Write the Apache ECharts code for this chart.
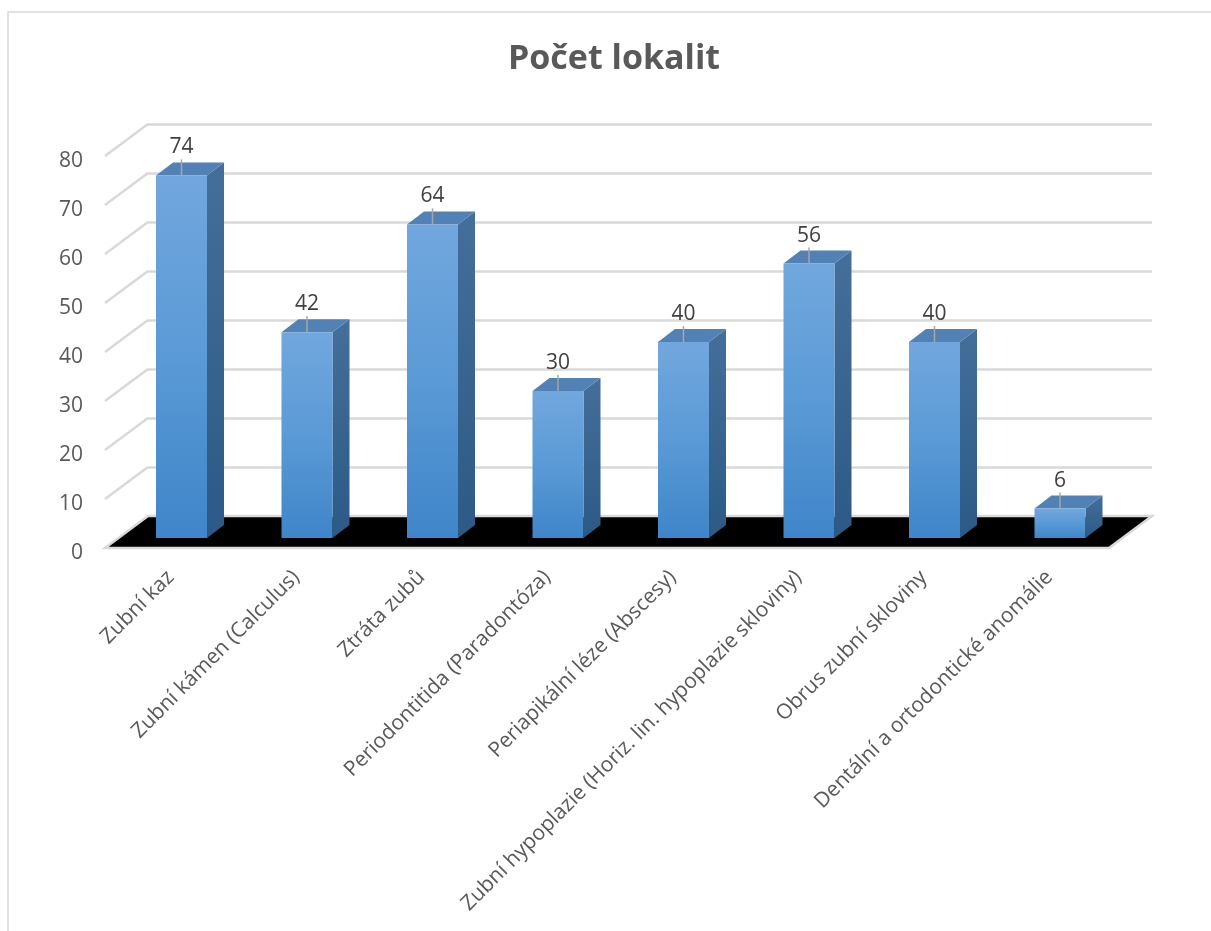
<!DOCTYPE html>
<html>
<head>
<meta charset="utf-8">
<script src="https://cdn.jsdelivr.net/npm/echarts@6/dist/echarts.min.js"></script>
<style>
html,body{margin:0;padding:0;background:#fff;}
#c{width:1211px;height:931px;}
</style>
</head>
<body>
<div id="c"></div>
<script>
const titleText = 'Počet lokalit';
const categories = [
  'Zubní kaz',
  'Zubní kámen (Calculus)',
  'Ztráta zubů',
  'Periodontitida (Paradontóza)',
  'Periapikální léze (Abscesy)',
  'Zubní hypoplazie (Horiz. lin. hypoplazie skloviny)',
  'Obrus zubní skloviny',
  'Dentální a ortodontické anomálie'
];
const values = [74, 42, 64, 30, 40, 56, 40, 6];
const yTicks = [0, 10, 20, 30, 40, 50, 60, 70, 80];

// oblique 3D projection offsets (pixels, relative to back wall)
const FRONT = [-43, 32];      // front edge of floor / side wall
const BAR_FRONT = [-29.25, 22];
const BAR_BACK = [-12.25, 9];
const HALF_W = 25.5;
const FONT = '"Open Sans", "Liberation Sans", sans-serif';

const chart = echarts.init(document.getElementById('c'), null, {renderer: 'canvas'});

const frontGrad = {type: 'linear', x: 0, y: 0, x2: 0, y2: 1, colorStops: [
  {offset: 0, color: '#72A7DE'}, {offset: 0.5, color: '#5A9AD6'}, {offset: 1, color: '#3F85C9'}]};
const sideGrad = {type: 'linear', x: 0, y: 0, x2: 0, y2: 1, colorStops: [
  {offset: 0, color: '#456F9B'}, {offset: 1, color: '#2C5985'}]};

const option = {
  animation: false,
  backgroundColor: '#ffffff',
  graphic: [
    {type: 'rect', shape: {x: 8, y: 12, width: 1400, height: 1100},
     style: {fill: 'none', stroke: '#d9d9d9', lineWidth: 1.5}, silent: true, z: -10},
    {type: 'text', x: 614, y: 59, style: {text: titleText, fill: '#595959',
      font: 'bold 34px ' + FONT, align: 'center', verticalAlign: 'middle'}}
  ],
  grid: {left: 148, right: 59, top: 124, bottom: 415},
  xAxis: {
    type: 'category', data: categories, boundaryGap: true,
    axisLine: {show: false}, axisTick: {show: false}, axisLabel: {show: false}, splitLine: {show: false}
  },
  yAxis: {
    type: 'value', min: 0, max: 80, interval: 10,
    axisLine: {show: false}, axisTick: {show: false}, axisLabel: {show: false},
    splitLine: {lineStyle: {color: '#d9d9d9', width: 2.5}}
  },
  series: [
    {
      // floor
      type: 'custom', z: 2, silent: true,
      data: [[0]],
      renderItem: function (params, api) {
        const cs = params.coordSys;
        const y0 = api.coord([0, 0])[1];
        const x1 = cs.x, x2 = cs.x + cs.width;
        return {
          type: 'polygon',
          shape: {points: [[x1, y0], [x2, y0], [x2 + FRONT[0], y0 + FRONT[1]], [x1 + FRONT[0], y0 + FRONT[1]]]},
          style: {fill: '#000000', stroke: '#d9d9d9', lineWidth: 2.5}
        };
      }
    },
    {
      // side wall diagonals + y tick labels
      type: 'custom', z: 3, silent: true,
      data: yTicks.map(function (t) { return [t]; }),
      encode: {y: 0},
      renderItem: function (params, api) {
        const cs = params.coordSys;
        const t = api.value(0);
        const y = api.coord([0, t])[1];
        const xb = cs.x;
        const children = [];
        if (t > 0) {
          children.push({type: 'line', shape: {x1: xb, y1: y, x2: xb + FRONT[0], y2: y + FRONT[1]},
            style: {stroke: '#d9d9d9', lineWidth: 2.5}});
        }
        children.push({type: 'text', x: xb + FRONT[0] - 22, y: y + FRONT[1] + 5,
          style: {text: String(t), fill: '#595959', font: '21px ' + FONT, align: 'right', verticalAlign: 'middle'}});
        return {type: 'group', children: children};
      }
    },
    {
      // 3D bars with value labels
      type: 'custom', z: 5, silent: true,
      data: values.map(function (v, i) { return [i, v]; }),
      encode: {x: 0, y: 1},
      renderItem: function (params, api) {
        const i = api.value(0), v = api.value(1);
        const base = api.coord([i, 0]);
        const top = api.coord([i, v]);
        const cx = base[0], y0 = base[1], yv = top[1];
        const fl = cx + BAR_FRONT[0] - HALF_W, fr = cx + BAR_FRONT[0] + HALF_W;
        const bl = cx + BAR_BACK[0] - HALF_W, br = cx + BAR_BACK[0] + HALF_W;
        const fyT = yv + BAR_FRONT[1], fyB = y0 + BAR_FRONT[1];
        const byT = yv + BAR_BACK[1], byB = y0 + BAR_BACK[1];
        const lx = cx + BAR_FRONT[0];
        return {
          type: 'group',
          children: [
            {type: 'polygon', shape: {points: [[fr, fyT], [br, byT], [br, byB], [fr, fyB]]},
              style: {fill: sideGrad}},
            {type: 'polygon', shape: {points: [[fl, fyT], [bl, byT], [br, byT], [fr, fyT]]},
              style: {fill: '#5281B6'}},
            {type: 'rect', shape: {x: fl, y: fyT, width: fr - fl, height: fyB - fyT},
              style: {fill: frontGrad}},
            {type: 'line', shape: {x1: lx, y1: fyT - 16, x2: lx, y2: fyT},
              style: {stroke: '#a6a6a6', lineWidth: 1.5}},
            {type: 'text', x: lx, y: fyT - 28,
              style: {text: String(v), fill: '#404040', font: '21px ' + FONT, align: 'center', verticalAlign: 'middle'}}
          ]
        };
      }
    },
    {
      // category labels (rotated)
      type: 'custom', z: 6, silent: true,
      data: categories.map(function (c, i) { return [i]; }),
      encode: {x: 0},
      renderItem: function (params, api) {
        const i = api.value(0);
        const p = api.coord([i, 0]);
        return {
          type: 'text', x: p[0] - 40, y: p[1] + 58, rotation: Math.PI / 4,
          style: {text: categories[i], fill: '#595959', font: '21px ' + FONT, align: 'right', verticalAlign: 'middle'}
        };
      }
    }
  ]
};
chart.setOption(option);
</script>
</body>
</html>
